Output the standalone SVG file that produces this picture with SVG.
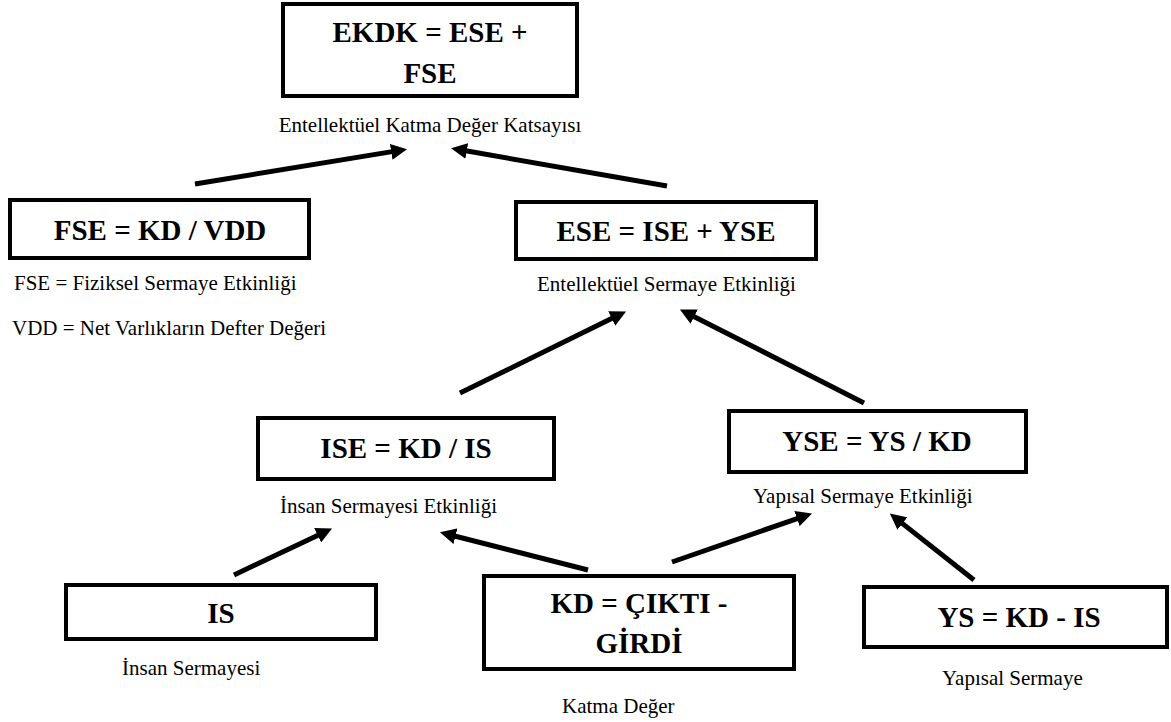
<svg xmlns="http://www.w3.org/2000/svg" width="1171" height="722" viewBox="0 0 1171 722">
<style>
.box{fill:#fff;stroke:#000;stroke-width:4}
.t{font-family:"Liberation Serif","Times New Roman",serif;font-weight:bold;font-size:29px;fill:#000;text-anchor:middle}
.c{font-family:"Liberation Serif","Times New Roman",serif;font-size:21px;fill:#000}
.a{stroke:#000;stroke-width:5;fill:none;marker-end:url(#ah)}
</style>
<defs>
<marker id="ah" markerUnits="userSpaceOnUse" markerWidth="16" markerHeight="16" viewBox="0 0 16 16" refX="1" refY="8" orient="auto">
<path d="M0,0 L16,8 L0,16 z" fill="#000"/>
</marker>
</defs>
<rect width="1171" height="722" fill="#fff"/>
<g id="connectors">
<line class="a" x1="195" y1="184" x2="392.2" y2="151.6"/>
<line class="a" x1="667" y1="186" x2="465.8" y2="150.8"/>
<line class="a" x1="460" y1="393" x2="612.6" y2="318.1"/>
<line class="a" x1="864" y1="403" x2="693.3" y2="316.2"/>
<line class="a" x1="234" y1="575" x2="318.5" y2="534.9"/>
<line class="a" x1="588" y1="570" x2="454.5" y2="536"/>
<line class="a" x1="672" y1="562" x2="797.9" y2="518.3"/>
<line class="a" x1="974" y1="580" x2="901.6" y2="522.9"/>
</g>
<g id="ekdk">
<rect class="box" x="283" y="4" width="294" height="92"/>
<text class="t" x="430" y="42">EKDK = ESE +</text>
<text class="t" x="430" y="83">FSE</text>
<text class="c" x="430" y="132" text-anchor="middle">Entellektüel Katma Değer Katsayısı</text>
</g>
<g id="fse">
<rect class="box" x="10" y="200" width="299" height="58"/>
<text class="t" x="160" y="240">FSE = KD / VDD</text>
<text class="c" x="14" y="290">FSE = Fiziksel Sermaye Etkinliği</text>
<text class="c" x="12" y="335">VDD = Net Varlıkların Defter Değeri</text>
</g>
<g id="ese">
<rect class="box" x="516" y="202" width="300" height="57"/>
<text class="t" x="666" y="241">ESE = ISE + YSE</text>
<text class="c" x="537" y="291">Entellektüel Sermaye Etkinliği</text>
</g>
<g id="ise">
<rect class="box" x="258" y="418" width="296" height="61"/>
<text class="t" x="406" y="458">ISE = KD / IS</text>
<text class="c" x="280" y="513">İnsan Sermayesi Etkinliği</text>
</g>
<g id="yse">
<rect class="box" x="729" y="411" width="297" height="61"/>
<text class="t" x="877" y="451">YSE = YS / KD</text>
<text class="c" x="753" y="503">Yapısal Sermaye Etkinliği</text>
</g>
<g id="is">
<rect class="box" x="66" y="585" width="310" height="54"/>
<text class="t" x="221" y="623">IS</text>
<text class="c" x="122" y="675">İnsan Sermayesi</text>
</g>
<g id="kd">
<rect class="box" x="484" y="576" width="310" height="93"/>
<text class="t" x="639" y="613">KD = ÇIKTI -</text>
<text class="t" x="639" y="653">GİRDİ</text>
<text class="c" x="562" y="713">Katma Değer</text>
</g>
<g id="ys">
<rect class="box" x="864" y="587" width="303" height="60"/>
<text class="t" x="1019" y="627">YS = KD - IS</text>
<text class="c" x="942" y="685">Yapısal Sermaye</text>
</g>
</svg>
